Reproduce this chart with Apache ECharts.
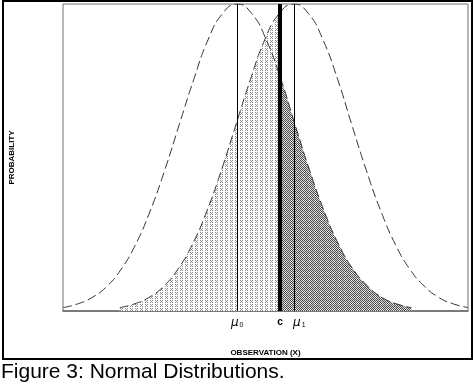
<!DOCTYPE html>
<html>
<head>
<meta charset="utf-8">
<script src="https://cdn.jsdelivr.net/npm/echarts@6/dist/echarts.min.js"></script>
<style>
html,body{margin:0;padding:0;background:#fff;}
#chart{width:474px;height:385px;}
</style>
</head>
<body>
<div id="chart"></div>
<script>
// Left distribution (centred on mu0)
const xLeft = [0, 3.6, 7.2, 10.8, 14.3, 17.9, 21.5, 25.1, 28.7, 32.3, 35.8, 39.4, 43, 46.6, 50.2, 53.8, 57.3, 60.9, 64.5, 68.1, 71.7, 75.3, 78.8, 82.4, 86];
const yLeft = [1.1, 2.3, 4.4, 8.0, 13.5, 21.6, 32.5, 45.8, 60.7, 75.5, 88.3, 96.9, 100, 96.9, 88.3, 75.5, 60.7, 45.8, 32.5, 21.6, 13.5, 8.0, 4.4, 2.3, 1.1];
// Right distribution (centred on mu1)
const xRight = [14, 17.6, 21.2, 24.8, 28.3, 31.9, 35.5, 39.1, 42.7, 46.3, 49.8, 53.4, 57, 60.6, 64.2, 67.8, 71.3, 74.9, 78.5, 82.1, 85.7, 89.3, 92.8, 96.4, 100];
const yRight = [1.1, 2.3, 4.4, 8.0, 13.5, 21.6, 32.5, 45.8, 60.7, 75.5, 88.3, 96.9, 100, 96.9, 88.3, 75.5, 60.7, 45.8, 32.5, 21.6, 13.5, 8.0, 4.4, 2.3, 1.1];
// Key positions
const mu0 = 43;
const mu1 = 57;
const cVal = 53.6;
const leftAtC = 76.0;
const rightAtC = 97.2;
// Tick labels
const tickValues = [43, 53.6, 57];
const tickLabels = ['mu0', 'c', 'mu1'];

function makeTile(w, h, draw) {
  const cv = document.createElement('canvas');
  cv.width = w; cv.height = h;
  const ctx = cv.getContext('2d');
  ctx.fillStyle = '#fff';
  ctx.fillRect(0, 0, w, h);
  draw(ctx);
  return cv;
}
const lightTile = makeTile(5, 4, ctx => {
  ctx.fillStyle = '#8c8c8c';
  [[0,0],[2,0],[1,1],[0,2],[2,2]].forEach(p => ctx.fillRect(p[0], p[1], 1, 1));
});
const darkTile = makeTile(6, 6, ctx => {
  for (let x = 0; x < 6; x++) for (let y = 0; y < 6; y++) {
    ctx.fillStyle = ((x + y) % 2 === 0) ? '#4e4e4e' : '#d6d6d6';
    ctx.fillRect(x, y, 1, 1);
  }
  ctx.fillStyle = '#ffffff';
  [[2,3],[4,3],[3,2],[3,4]].forEach(p => ctx.fillRect(p[0], p[1], 1, 1));
  ctx.fillStyle = '#202020';
  ctx.fillRect(3, 3, 1, 1);
});

const leftPts = xLeft.map((x, i) => [x, yLeft[i]]);
const rightPts = xRight.map((x, i) => [x, yRight[i]]);
const lightPts = rightPts.filter(p => p[0] < cVal).concat([[cVal, rightAtC]]);
const darkPts = [[cVal, leftAtC]].concat(leftPts.filter(p => p[0] > cVal));

const chart = echarts.init(document.getElementById('chart'), null, {renderer: 'canvas'});
chart.setOption({
  animation: false,
  backgroundColor: '#fff',
  grid: {left: 63, right: 6, top: 4, bottom: 74, show: true, borderColor: '#707070', borderWidth: 1},
  xAxis: {
    type: 'value', min: 0, max: 100,
    name: 'OBSERVATION (X)', nameLocation: 'middle', nameGap: 38,
    nameTextStyle: {fontSize: 8, fontWeight: 'bold', fontFamily: 'Liberation Sans', color: '#000'},
    axisLine: {show: true, lineStyle: {color: '#666', width: 1.5}},
    axisTick: {show: false},
    splitLine: {show: false},
    axisLabel: {
      customValues: tickValues,
      margin: 6,
      color: '#000',
      formatter: v => {
        const i = tickValues.indexOf(v);
        const t = tickLabels[i];
        if (t === 'mu0') return '{mu|μ}{sub|0}';
        if (t === 'mu1') return '{gap|}{mu|μ}{sub|1}';
        return '{c|c}';
      },
      rich: {
        mu: {fontSize: 12, fontFamily: 'DejaVu Sans', fontStyle: 'italic', color: '#000'},
        sub: {fontSize: 7, fontFamily: 'Liberation Sans', color: '#000', padding: [5, 0, 0, 1]},
        c: {fontSize: 10, fontWeight: 'bold', fontFamily: 'Liberation Sans', color: '#000'},
        gap: {width: 11}
      }
    }
  },
  yAxis: {
    type: 'value', min: 0, max: 100,
    name: 'PROBABILITY', nameLocation: 'middle', nameGap: 47, nameRotate: 90,
    nameTextStyle: {fontSize: 8, fontWeight: 'bold', fontFamily: 'Liberation Sans', color: '#000'},
    axisLine: {show: false}, axisTick: {show: false}, axisLabel: {show: false}, splitLine: {show: false}
  },
  series: [
    {type: 'line', data: lightPts, smooth: true, symbol: 'none', lineStyle: {width: 0},
     areaStyle: {color: {image: lightTile, repeat: 'repeat'}, opacity: 1}, z: 1},
    {type: 'line', data: darkPts, smooth: true, symbol: 'none', lineStyle: {width: 0},
     areaStyle: {color: {image: darkTile, repeat: 'repeat'}, opacity: 1}, z: 1},
    {type: 'line', data: leftPts, smooth: true, symbol: 'none',
     lineStyle: {color: '#333', width: 1, type: [9, 4]}, z: 3,
     markLine: {silent: true, symbol: 'none', label: {show: false},
       lineStyle: {color: '#000', width: 1, type: 'solid'},
       data: [
         [{coord: [mu0, 0]}, {coord: [mu0, 100]}],
         [{coord: [mu1, 0]}, {coord: [mu1, 100]}],
         [{coord: [cVal, 0], lineStyle: {width: 4, color: '#000'}}, {coord: [cVal, 100]}]
       ]}},
    {type: 'line', data: rightPts, smooth: true, symbol: 'none',
     lineStyle: {color: '#333', width: 1, type: [9, 4]}, z: 3}
  ],
  graphic: [
    {type: 'rect', shape: {x: 3, y: 1, width: 469, height: 358}, style: {fill: 'none', stroke: '#000', lineWidth: 2}, silent: true},
    {type: 'text', style: {x: 1, y: 362, text: 'Figure 3: Normal Distributions.', font: '21px "Liberation Sans"', fill: '#000', textVerticalAlign: 'top'}}
  ]
});
</script>
</body>
</html>
